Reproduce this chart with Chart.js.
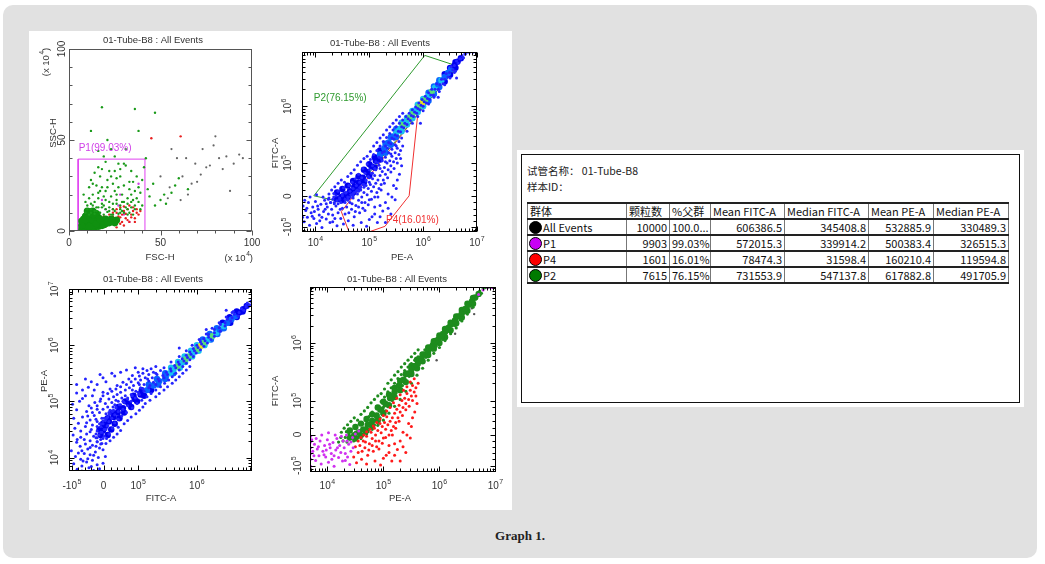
<!DOCTYPE html>
<html>
<head>
<meta charset="utf-8">
<script src="https://cdn.jsdelivr.net/npm/chart.js@4.4.1/dist/chart.umd.min.js"></script>
<style>
  body { margin: 0; width: 1045px; height: 564px; background: #fff; position: relative; overflow: hidden; font-family: "Liberation Sans", Arial, sans-serif; }
  #panel { position: absolute; left: 3px; top: 5px; width: 1034px; height: 553px; background: #e1e1e1; border-radius: 10px; }
  #figure { position: absolute; left: 29px; top: 31px; width: 483px; height: 479px; background: #fff; }
  .plot { position: absolute; width: 240px; height: 240px; }
  #tbox { position: absolute; left: 517px; top: 150px; width: 507px; height: 257px; background: #fff; }
  #tframe { position: absolute; left: 521px; top: 154px; width: 497px; height: 247px; border: 1px solid #111; }
  .meta { position: absolute; left: 527px; font-family: "Noto Sans CJK SC", sans-serif; font-size: 10.5px; color: #222; line-height: 14px; }
  #stats { position: absolute; left: 527px; top: 202px; width: 481px; border-collapse: collapse; table-layout: fixed;
           font-family: "Noto Sans CJK SC", sans-serif; font-size: 11px; color: #111; }
  #stats td { border-left: 1px solid #777; border-right: 1px solid #777; border-top: 2px solid #222; border-bottom: 2px solid #222;
              height: 14px; padding: 0 2px; line-height: 14px; white-space: nowrap; overflow: hidden; text-align: right; }
  #stats td.name, #stats tr.head td { text-align: left; }
  .dot { display: inline-block; width: 11px; height: 11px; border-radius: 50%; border: 1px solid #000; vertical-align: -2px; margin-right: 1px; margin-left: -1px; }
  #caption { position: absolute; left: 3px; width: 1034px; top: 528px; text-align: center; font-family: "Liberation Serif", "DejaVu Serif", serif; font-weight: bold; font-size: 13px; color: #222; }
</style>
</head>
<body>
<div id="panel"></div>
<div id="figure"></div>
<canvas id="plotScatter" class="plot" width="240" height="240" style="left:30px;top:30px"></canvas>
<canvas id="plotPeFitc" class="plot" width="240" height="240" style="left:270px;top:30px"></canvas>
<canvas id="plotFitcPe" class="plot" width="240" height="240" style="left:30px;top:270px"></canvas>
<canvas id="plotGated" class="plot" width="240" height="240" style="left:270px;top:270px"></canvas>
<div id="tbox"></div>
<div id="tframe"></div>
<div class="meta" id="tubeLine" style="top:164px"></div>
<div class="meta" id="sampleLine" style="top:180px"></div>
<table id="stats"></table>
<div id="caption">Graph 1.</div>

<script>
// ---- FSC-H / SSC-H (x 10^4) ----
const fscSscCore = [
  [8,1.5],[8,4],[8,6.5],[9.5,8.5],[10,1.5],[10,4],[10,6.5],[12,1.5],[12,4],[12,6.5],[12,9],
  [14,2],[14,4.5],[14,7],[16,2.5],[16,5],[16,7.5],[18,3],[18,5.5],[20,4],[20,6.5],[22,4.5],
  [24,5.5],[26,6],[11,10.5],[15,9.5],[7,1],[9,3],
  [7,3],[7,5.5],[9,6],[9,8],[11,2.5],[11,8],[13,6],[13,9],[15,4],[17,6.5],[19,3.5],[21,5],
  [23,6.5],[25,4.5],[10,11],[13,11]
];
const fscSscGreen = [
  [10,12],[12,15],[14,11],[16,18],[18,13],[20,22],[22,16],[24,12],[26,20],[28,14],[30,25],[32,18],
  [34,13],[36,22],[38,16],[13,20],[15,25],[17,30],[19,14],[21,28],[23,19],[25,33],[27,24],[29,11],
  [31,36],[33,27],[35,17],[37,30],[39,21],[11,18],[16,35],[20,38],[24,26],[28,30],[32,12],[26,15],
  [22,11],[18,24],[14,16],[12,10],[30,16],[34,20],[36,12],[40,14],[38,24],[20,12],[24,9],[28,10],
  [32,9],[27,37],[22,33],[17,22],[19,41],[12,28],[8,20],[11,24],[15,13],[25,41],[23,45],[31,45],
  [44,19],[47,14],[50,17],[53,15],[56,21],[58,25],[60,29],[46,26],[42,40],[38,55],[18,68],[36,67],
  [47,65],[12,55],[43,23],[52,20],[65,23],
  [9,10],[10,14],[11,9],[12,12],[13,14],[14,9.5],[15,11],[16,13],[17,10],[18,15],[19,9],[20,17],
  [21,10.5],[22,13],[23,9],[24,15],[25,11],[26,17],[27,9.5],[28,12],[29,16],[30,10],[31,13],[32,15],
  [33,10],[34,16],[35,9],[36,14],[37,18],[39,12],[9,16],[13,26],[16,21],[19,19],[21,24],[25,22],
  [29,20],[33,23],[35,27],[14,32],[18,34],[23,30],[28,34],[34,33],[40,28],[41,35],[26,29],[30,37],
  [16,44],[21,50]
];
const fscSscRed = [
  [18,4],[20,6],[22,3.5],[24,8],[25,5],[26,10],[27,6.5],[28,4],[29,9],[30,11],[31,7],[32,12],
  [33,5],[34,9],[35,11],[36,7],[22,9],[30,3],[24,12],[20,2.5],[28,13],[33,14],[16,5],[14,3],
  [37,10],[26,2],[45,51],[61,52],
  [21,4.5],[23,5.5],[25,7],[27,8],[29,5],[31,9.5],[32,6],[34,7.5],[35,13],[37,12],[38,9],[26,12],
  [24,10],[30,13.5],[28,7.5],[19,8],[36,5],[39,11]
];
const fscSscMagenta = [[15,8],[20,12],[25,6],[30,9],[38,26],[28,20],[12,4],[18,17],[33,5],[22,7],[27,14]];
const fscSscGray = [
  [50,30],[55,24],[59,40],[62,30],[64,40],[67,26],[70,27],[73,45],[75,35],[77,36],[79,47],[80,52],
  [82,40],[84,34],[86,41],[90,37],[93,42],[95,40],[72,31],[65,20],[56,45],[69,37],[54,18],[61,17],[88,22]
];
const gateP1 = [[5,0],[41.5,0],[41.5,39.5],[5,39.5],[5,0]];

// ---- PE-A / FITC-A, display units (log decades, FITC biexponential) ----
const peFitcRidge = [
  [4.40,4.48,0],[4.50,4.54,0],[4.60,4.60,0],[4.70,4.68,0],[4.80,4.76,0],[4.90,4.88,0],[5.00,4.98,0],
  [5.10,5.10,0],[5.20,5.22,0],[5.30,5.34,1],[5.40,5.46,1],[5.50,5.60,1],[5.60,5.71,2],[5.70,5.80,2],
  [5.80,5.92,2],[5.90,6.03,2],[6.00,6.13,2],[6.10,6.24,1],[6.20,6.35,1],[6.30,6.46,1],[6.40,6.57,0],
  [6.50,6.68,0],[6.60,6.78,0],
  [4.50,4.34,0],[4.60,4.40,0],[4.70,4.48,0],[4.80,4.56,0],[4.90,4.66,0],[5.00,4.78,0],[5.10,4.92,0],
  [5.20,5.06,0],[5.30,5.18,1],[5.40,5.32,1],[5.50,5.46,1],[5.60,5.56,2],[5.70,5.68,2],[5.80,5.79,2],
  [5.90,5.90,2],[6.00,6.00,2],[6.10,6.10,1],[6.20,6.22,1],[6.30,6.34,1],[6.40,6.44,0],[6.50,6.56,0],
  [6.60,6.68,0],
  [4.40,4.36,0],[4.48,4.40,0],[4.56,4.44,0],[4.64,4.50,0],[4.72,4.58,0],[4.80,4.65,0],[4.88,4.74,0],
  [4.96,4.84,0],[5.04,4.94,0],[5.12,5.04,0],[5.20,5.15,1],[5.28,5.26,1],[5.36,5.36,1],[5.44,5.47,1],
  [5.50,5.54,2],[5.56,5.60,2],[5.62,5.67,3],[5.68,5.73,2],[5.74,5.80,3],[5.80,5.86,3],[5.86,5.93,2],
  [5.92,6.00,3],[5.98,6.06,4],[6.04,6.12,3],[6.10,6.19,2],[6.16,6.26,3],[6.22,6.33,2],[6.28,6.39,1],
  [6.34,6.46,2],[6.40,6.52,1],[6.46,6.59,1],[6.52,6.66,1],[6.58,6.72,0],[6.64,6.79,0],[6.70,6.85,0]
];
const peFitcP2 = [
  [4.28,4.30],[4.32,4.36],[4.35,4.28],[4.38,4.42],[4.40,4.33],[4.42,4.50],[4.45,4.38],[4.47,4.30],
  [4.50,4.45],[4.52,4.56],[4.55,4.36],[4.57,4.48],[4.60,4.40],[4.62,4.60],[4.64,4.50],
  [4.66,4.44],[4.68,4.66],[4.70,4.55],[4.72,4.48],[4.74,4.72],[4.76,4.60],[4.78,4.52],[4.80,4.80],
  [4.82,4.66],[4.84,4.58],[4.86,4.74],[4.88,4.90],[4.90,4.62],[4.92,4.82],[4.94,4.70],
  [4.96,4.98],[4.98,4.76],[5.00,4.88],[5.02,5.06],[5.04,4.82],[5.06,4.95],[5.08,5.15],[5.10,4.90],
  [5.12,5.02],[5.14,5.22],[5.16,5.00],[5.18,5.10],[5.20,5.30],[5.22,5.08],[5.24,5.18],
  [5.26,5.38],[5.28,5.20],[5.30,5.30],[5.32,5.45],[5.34,5.26],[5.36,5.36],[5.38,5.52],[5.40,5.34],
  [5.42,5.44],[5.44,5.58],[5.46,5.42],[5.48,5.50],[5.50,5.64],[5.52,5.48],[5.54,5.56],
  [5.56,5.70],[5.58,5.55],[5.60,5.64],[5.62,5.76],[5.64,5.62],[5.66,5.70],[5.68,5.82],[5.70,5.68],
  [5.72,5.78],[5.74,5.88],[5.76,5.75],[5.78,5.84],[5.80,5.94],[5.82,5.82],[5.84,5.90],
  [5.86,5.99],[5.88,5.88],[5.90,5.96],[5.92,6.06],[5.94,5.94],[5.96,6.02],[5.98,6.12],[6.00,6.00],
  [6.02,6.08],[6.04,6.18],[6.06,6.06],[6.08,6.14],[6.10,6.24],[6.12,6.12],[6.14,6.20],
  [6.16,6.30],[6.19,6.20],[6.22,6.30],[6.25,6.40],[6.28,6.30],[6.31,6.38],[6.34,6.48],[6.37,6.40],
  [6.40,6.48],[6.43,6.58],[6.46,6.52],[6.49,6.60],
  [6.52,6.70],[6.55,6.64],[6.58,6.72],[6.62,6.80],[6.65,6.76],[6.68,6.84],[6.72,6.90],[6.75,6.86],
  [6.78,6.94],[6.82,6.96],[6.86,6.96],[6.90,6.97],
  [4.25,4.45],[4.30,4.52],[4.36,4.58],[4.42,4.64],[4.48,4.70],[4.54,4.66],[4.60,4.76],[4.66,4.82],
  [4.72,4.88],[4.78,4.96],[4.84,5.02],[4.90,5.08],[4.96,5.12],[5.02,5.20],[5.08,5.30],[5.14,5.36],
  [5.20,5.44],[5.26,5.50],[5.32,5.58],[5.38,5.64],[5.44,5.70],[5.50,5.76],[5.56,5.82],[5.62,5.88],
  [4.60,4.34],[4.70,4.42],[4.80,4.50],[4.90,4.57],[5.00,4.66],[5.10,4.78],[5.20,4.90],[5.30,5.02],
  [5.40,5.16],[5.50,5.30],[5.60,5.44],[5.70,5.56],[5.80,5.70],[5.90,5.82],[6.00,5.92],[6.10,6.04],
  [6.20,6.16],[6.30,6.26],[6.40,6.38],[6.50,6.50],[6.60,6.62],[4.20,4.28],[4.24,4.36],[4.34,4.46]
];
const peFitcP4 = [
  [5.62,5.30],[5.58,5.22],[5.55,5.15],[5.52,5.26],[5.50,5.08],[5.48,5.18],[5.45,5.02],[5.42,5.12],
  [5.40,4.95],[5.38,5.04],[5.35,4.88],[5.33,5.00],[5.30,4.80],[5.28,4.92],[5.26,4.70],[5.24,4.85],
  [5.22,4.62],[5.20,4.78],[5.18,4.55],[5.16,4.70],[5.14,4.48],[5.12,4.64],[5.10,4.40],[5.08,4.58],
  [5.06,4.72],[5.04,4.50],[5.02,4.62],[5.00,4.35],[4.98,4.55],[4.96,4.44],[4.94,4.60],[4.92,4.30],
  [4.90,4.48],[4.88,4.20],[4.86,4.40],[4.84,4.52],[4.82,4.12],[4.80,4.34],[4.78,4.45],[4.75,4.25],
  [4.72,4.05],[4.70,4.38],[4.67,4.18],[4.64,4.30],[4.61,3.98],[4.58,4.22],[4.55,4.10],[4.52,3.92],
  [4.50,4.20],[4.47,4.02],[5.30,4.30],[5.35,4.45],[5.40,4.10],[5.45,4.60],[5.25,4.15],[5.15,3.95],
  [5.05,4.05],[4.95,3.88],[5.52,4.70],[5.60,4.95],[5.48,4.35],[5.20,4.25],
  [4.55,4.30],[4.60,4.36],[4.65,4.40],[4.70,4.46],[4.76,4.50],[4.82,4.56],[4.88,4.62],[4.94,4.68],
  [5.00,4.74],[5.06,4.82],[5.12,4.88],[5.18,4.96],[5.24,5.04],[5.30,5.10],[5.36,5.18],[5.42,5.24],
  [5.48,5.32],[5.55,5.38],[4.62,4.12],[4.68,4.28],[4.74,4.14],[4.80,4.22],[4.86,4.30],[4.92,4.16],
  [4.98,4.26],[5.04,4.36],[5.10,4.22],[5.16,4.40],[5.22,4.52],[5.28,4.64],[5.34,4.74],[5.40,4.84],
  [5.46,4.90],[5.52,5.00],[5.58,5.08],[5.10,4.10],[5.00,4.00],[4.85,3.95],[4.70,3.90],[5.35,4.20],
  [5.42,4.40],[5.50,4.55],[5.56,4.80],[5.30,3.95],[5.20,4.05]
];
const peFitcP1 = [
  [3.70,3.86],[3.70,3.98],[3.70,4.08],[3.70,4.18],[3.70,4.28],[3.70,4.38],
  [3.74,4.12],[3.77,4.24],[3.79,3.96],[3.82,4.16],[3.85,4.04],[3.87,4.30],[3.89,3.90],[3.92,4.12],
  [3.95,4.22],[3.97,4.02],[4.00,4.32],[4.02,3.93],[4.05,4.18],[4.07,4.08],[4.10,4.27],[4.12,3.86],
  [4.15,4.14],[4.17,4.34],[4.20,4.01],[4.22,4.22],[4.25,4.38],[4.27,3.95],[4.30,4.18],[4.32,4.08],
  [4.35,4.30],[4.38,4.24],[4.40,3.89],[4.42,4.12],[4.45,4.36],[4.50,4.42],[4.56,4.47],
  [3.80,4.34],[3.84,4.20],[3.90,4.40],[3.94,4.06],[3.98,4.14],[4.04,4.24],[4.08,3.98],[4.14,4.40],
  [4.18,4.18],[4.24,4.10],[4.28,4.30],[4.34,4.40],[4.36,4.02],[4.42,4.28],[4.46,4.18],[3.76,4.04],
  [3.72,4.32],[4.02,4.44],[4.12,4.04],[4.32,3.96],
  [6.70,6.84],[6.78,6.92],[6.86,6.96],[6.93,6.96]
];
const peFitcOther = [[6.58,6.60],[6.28,6.16],[6.62,6.50],[5.95,5.70]];
const gateP2 = [[3.97,4.42],[6.03,6.90],[6.64,6.71],[4.54,4.30],[3.97,4.42]];
const gateP4 = [[5.90,5.86],[5.74,4.42],[5.29,3.88],[5.02,3.79],[4.62,3.79],[4.48,4.14],[5.90,5.86]];

// ---- axes ----
const fscTicks = [0, 50, 100];
const fscTickLabels = ['0', '50', '100'];
const sscTicks = [0, 50, 100];
const sscTickLabels = ['0', '50', '100'];
const peTicks = [4, 5, 6, 7];
const peTickLabels = ['10^4', '10^5', '10^6', '10^7'];
const fitcTicks = [3.87, 4.41, 5, 6];
const fitcTickLabels = ['-10^5', '0', '10^5', '10^6'];

// ---- statistics table ----
const tubeName = '01-Tube-B8';
const tableHeaders = ['群体', '颗粒数', '%父群', 'Mean FITC-A', 'Median FITC-A', 'Mean PE-A', 'Median PE-A'];
const popNames = ['All Events', 'P1', 'P4', 'P2'];
const popCounts = [10000, 9903, 1601, 7615];
const popParentPct = ['100.0...', '99.03%', '16.01%', '76.15%'];
const meanFitc = [606386.5, 572015.3, 78474.3, 731553.9];
const medianFitc = [345408.8, 339914.2, 31598.4, 547137.8];
const meanPe = [532885.9, 500383.4, 160210.4, 617882.8];
const medianPe = [330489.3, 326515.3, 119594.8, 491705.9];

const popColors = ['#000000', '#c800f5', '#ff0000', '#007a00'];
const colWidths = [99, 43, 41, 74, 84, 65, 75];
const densityColors = ['#0000f0', '#0a64ff', '#19c3f0', '#55e07a', '#e6e61e'];
const cloudBlue = '#2424ff';
const FONT = '"Liberation Sans", Arial, sans-serif';

function stepMinor(min, max, step, majors) {
  const out = [];
  for (let v = min + step; v < max; v += step) if (!majors.includes(v)) out.push(v);
  return out;
}
function logMinor(min, max) {
  const out = [];
  for (let d = Math.floor(min); d < max; d++)
    for (let k = 2; k <= 9; k++) {
      const v = d + Math.log10(k);
      if (v > min && v < max) out.push(v);
    }
  return out;
}
function fitcMinor(min, max) {
  const out = logMinor(5, max);
  const neg = fitcTicks[0], zero = fitcTicks[1];
  for (let i = 1; i < 5; i++) {
    out.push(neg + (zero - neg) * i / 5);
    out.push(zero + (5 - zero) * i / 5);
  }
  out.push(neg - 0.06);
  return out.filter(v => v > min && v < max);
}

function drawPow(ctx, label, x, y, rot, align, size) {
  const [base, exp] = label.split('^');
  ctx.save();
  ctx.translate(x, y);
  ctx.rotate(rot);
  ctx.textBaseline = 'middle';
  ctx.textAlign = 'left';
  ctx.font = size + 'px ' + FONT;
  const w1 = ctx.measureText(base).width;
  let w2 = 0, w3 = 0, tail = '';
  let e = exp;
  if (exp && exp.includes(')')) { tail = exp.slice(exp.indexOf(')')); e = exp.slice(0, exp.indexOf(')')); }
  if (e) { ctx.font = (size * 0.7) + 'px ' + FONT; w2 = ctx.measureText(e).width + 0.5; }
  if (tail) { ctx.font = size + 'px ' + FONT; w3 = ctx.measureText(tail).width; }
  const w = w1 + w2 + w3;
  const x0 = align === 'right' ? -w : align === 'left' ? 0 : -w / 2;
  ctx.font = size + 'px ' + FONT;
  ctx.fillText(base, x0, 0);
  if (e) { ctx.font = (size * 0.7) + 'px ' + FONT; ctx.fillText(e, x0 + w1 + 0.5, -size * 0.42); }
  if (tail) { ctx.font = size + 'px ' + FONT; ctx.fillText(tail, x0 + w1 + w2, 0); }
  ctx.restore();
}

const flowDecor = {
  id: 'flowDecor',
  afterDatasetsDraw(chart, args, o) {
    const { ctx, chartArea: a } = chart;
    const sx = chart.scales.x, sy = chart.scales.y;
    const L = Math.round(a.left) + 0.5, T = Math.round(a.top) + 0.5;
    const R = Math.round(a.right) - 0.5, B = Math.round(a.bottom) - 0.5;
    ctx.save();
    ctx.strokeStyle = o.frameColor;
    ctx.lineWidth = 1;
    ctx.strokeRect(L, T, R - L, B - T);
    ctx.beginPath();
    const xOut = o.xOut ? -1 : 1;
    const xt = (v, len) => {
      const p = Math.round(sx.getPixelForValue(v)) + 0.5;
      ctx.moveTo(p, B); ctx.lineTo(p, B - len * xOut);
      if (o.topTicks) { ctx.moveTo(p, T); ctx.lineTo(p, T + len); }
    };
    const yt = (v, len) => {
      const p = Math.round(sy.getPixelForValue(v)) + 0.5;
      ctx.moveTo(L, p); ctx.lineTo(L + len, p);
      ctx.moveTo(R, p); ctx.lineTo(R - len, p);
    };
    o.xTicks.forEach(v => xt(v, 5));
    o.xMinor.forEach(v => xt(v, 3));
    o.yTicks.forEach(v => yt(v, 5));
    o.yMinor.forEach(v => yt(v, 3));
    ctx.stroke();

    ctx.fillStyle = '#333';
    o.xTicks.forEach((v, i) => drawPow(ctx, o.xLabels[i], sx.getPixelForValue(v), o.xLabelY, 0, 'center', 10));
    o.yTicks.forEach((v, i) => drawPow(ctx, o.yLabels[i], o.yLabelX, sy.getPixelForValue(v), -Math.PI / 2, 'center', 10));
    o.texts.forEach(t => drawPow(ctx, t.text, t.x, t.y, t.rot ? -Math.PI / 2 : 0, t.align || 'center', t.size || 9.5));
    o.gateLabels.forEach(g => {
      ctx.fillStyle = g.color;
      drawPow(ctx, g.text, sx.getPixelForValue(g.x), sy.getPixelForValue(g.y), 0, 'left', 10);
    });
    ctx.restore();
  }
};

function dots(data, color, r) {
  return { data, pointRadius: r, pointHoverRadius: r, pointBackgroundColor: color,
           pointBorderWidth: 0, showLine: false, clip: 0 };
}
function gate(data, color) {
  return { data, showLine: true, borderColor: color, borderWidth: 1, pointRadius: 0,
           fill: false, tension: 0, clip: 0 };
}
const asXY = (arr, swap) => arr.map(p => swap ? { x: p[1], y: p[0], level: p[2] } : { x: p[0], y: p[1], level: p[2] });

function flowPlot(id, datasets, xr, yr, deco) {
  return new Chart(document.getElementById(id), {
    type: 'scatter',
    data: { datasets },
    options: {
      responsive: false,
      animation: false,
      events: [],
      layout: { padding: deco.pad },
      plugins: { legend: { display: false }, tooltip: { enabled: false }, title: { display: false }, flowDecor: deco },
      scales: {
        x: { type: 'linear', display: false, min: xr[0], max: xr[1] },
        y: { type: 'linear', display: false, min: yr[0], max: yr[1] }
      }
    },
    plugins: [flowDecor]
  });
}

const titleText = tubeName + ' : All Events';
const allCloud = [].concat(peFitcP1, peFitcP4, peFitcP2, peFitcOther);
const ridgeColor = c => densityColors[c.raw ? c.raw.level : 0];

// top left: FSC-H vs SSC-H
flowPlot('plotScatter', [
  dots(asXY(fscSscGray), '#666666', 1.1),
  dots(asXY(fscSscGreen), '#1a9a1a', 1.2),
  dots(asXY(fscSscCore), '#109010', 3.6),
  dots(asXY(fscSscRed), '#e82020', 1.2),
  dots(asXY(fscSscMagenta), '#d040e8', 1.2),
  gate(asXY(gateP1), '#e040f0')
], [0, 100], [0, 100], {
  pad: { left: 39, top: 19, right: 18, bottom: 39 },
  frameColor: '#555', xOut: true, topTicks: false,
  xTicks: fscTicks, xLabels: fscTickLabels, xMinor: stepMinor(0, 100, 10, fscTicks),
  yTicks: sscTicks, yLabels: sscTickLabels, yMinor: stepMinor(0, 100, 10, sscTicks),
  xLabelY: 213, yLabelX: 32,
  texts: [
    { text: titleText, x: 123, y: 10 },
    { text: 'FSC-H', x: 130, y: 227 },
    { text: '(x 10^4)', x: 223, y: 228, align: 'right' },
    { text: 'SSC-H', x: 23, y: 103, rot: true },
    { text: '(x 10^4)', x: 16, y: 32, rot: true }
  ],
  gateLabels: [{ text: 'P1(99.03%)', x: 5.3, y: 45.5, color: '#d040e8' }]
});

// top right: PE-A vs FITC-A with gates
flowPlot('plotPeFitc', [
  dots(asXY(allCloud), cloudBlue, 1.5),
  dots(asXY(peFitcRidge), ridgeColor, 3.2),
  gate(asXY(gateP2), '#2e9a2e'),
  gate(asXY(gateP4), '#f03030')
], [3.75, 7.0], [3.78, 6.96], {
  pad: { left: 32, top: 22, right: 33, bottom: 38 },
  frameColor: '#000', xOut: false, topTicks: true,
  xTicks: peTicks, xLabels: peTickLabels, xMinor: logMinor(3.75, 7.0),
  yTicks: fitcTicks, yLabels: fitcTickLabels, yMinor: fitcMinor(3.78, 6.96),
  xLabelY: 213.5, yLabelX: 18,
  texts: [
    { text: titleText, x: 110, y: 13 },
    { text: 'PE-A', x: 132, y: 227 },
    { text: 'FITC-A', x: 5, y: 123, rot: true }
  ],
  gateLabels: [
    { text: 'P2(76.15%)', x: 3.97, y: 6.14, color: '#2e9a2e' },
    { text: 'P4(16.01%)', x: 5.31, y: 3.99, color: '#f03030' }
  ]
});

// bottom left: FITC-A vs PE-A
flowPlot('plotFitcPe', [
  dots(asXY(allCloud, true), cloudBlue, 1.5),
  dots(asXY(peFitcRidge, true), ridgeColor, 3.2)
], [3.82, 6.94], [3.76, 7.0], {
  pad: { left: 39, top: 19, right: 18, bottom: 39 },
  frameColor: '#000', xOut: false, topTicks: true,
  xTicks: fitcTicks, xLabels: fitcTickLabels, xMinor: fitcMinor(3.82, 6.94),
  yTicks: peTicks, yLabels: peTickLabels, yMinor: logMinor(3.76, 7.0),
  xLabelY: 216, yLabelX: 25,
  texts: [
    { text: titleText, x: 123, y: 9 },
    { text: 'FITC-A', x: 131, y: 228 },
    { text: 'PE-A', x: 14, y: 111, rot: true }
  ],
  gateLabels: []
});

// bottom right: PE-A vs FITC-A coloured by gate
flowPlot('plotGated', [
  dots(asXY(peFitcP1), '#d030f0', 1.5),
  dots(asXY(peFitcP4), '#ff1a1a', 1.5),
  dots(asXY(peFitcP2), '#1e8c1e', 1.6),
  dots(asXY(peFitcRidge), '#1e8c1e', 3.2),
  dots(asXY(peFitcOther), '#555555', 1.2)
], [3.69, 7.01], [3.76, 6.97], {
  pad: { left: 40, top: 17, right: 14, bottom: 38 },
  frameColor: '#000', xOut: false, topTicks: true,
  xTicks: peTicks, xLabels: peTickLabels, xMinor: logMinor(3.69, 7.01),
  yTicks: fitcTicks, yLabels: fitcTickLabels, yMinor: fitcMinor(3.76, 6.97),
  xLabelY: 216, yLabelX: 28,
  texts: [
    { text: titleText, x: 127, y: 9 },
    { text: 'PE-A', x: 130, y: 228 },
    { text: 'FITC-A', x: 5, y: 121, rot: true }
  ],
  gateLabels: []
});

// statistics table
document.getElementById('tubeLine').textContent = '试管名称： ' + tubeName;
document.getElementById('sampleLine').textContent = '样本ID：';
const table = document.getElementById('stats');
const colgroup = document.createElement('colgroup');
colWidths.forEach(w => { const c = document.createElement('col'); c.style.width = w + 'px'; colgroup.appendChild(c); });
table.appendChild(colgroup);
const head = document.createElement('tr');
head.className = 'head';
tableHeaders.forEach(h => { const td = document.createElement('td'); td.textContent = h; head.appendChild(td); });
table.appendChild(head);
popNames.forEach((name, i) => {
  const tr = document.createElement('tr');
  const cells = [name, String(popCounts[i]), popParentPct[i], meanFitc[i].toFixed(1),
                 medianFitc[i].toFixed(1), meanPe[i].toFixed(1), medianPe[i].toFixed(1)];
  cells.forEach((v, j) => {
    const td = document.createElement('td');
    if (j === 0) {
      td.className = 'name';
      const dot = document.createElement('span');
      dot.className = 'dot';
      dot.style.background = popColors[i];
      td.appendChild(dot);
      td.appendChild(document.createTextNode(v));
    } else {
      td.textContent = v;
    }
    tr.appendChild(td);
  });
  table.appendChild(tr);
});
</script>
</body>
</html>
